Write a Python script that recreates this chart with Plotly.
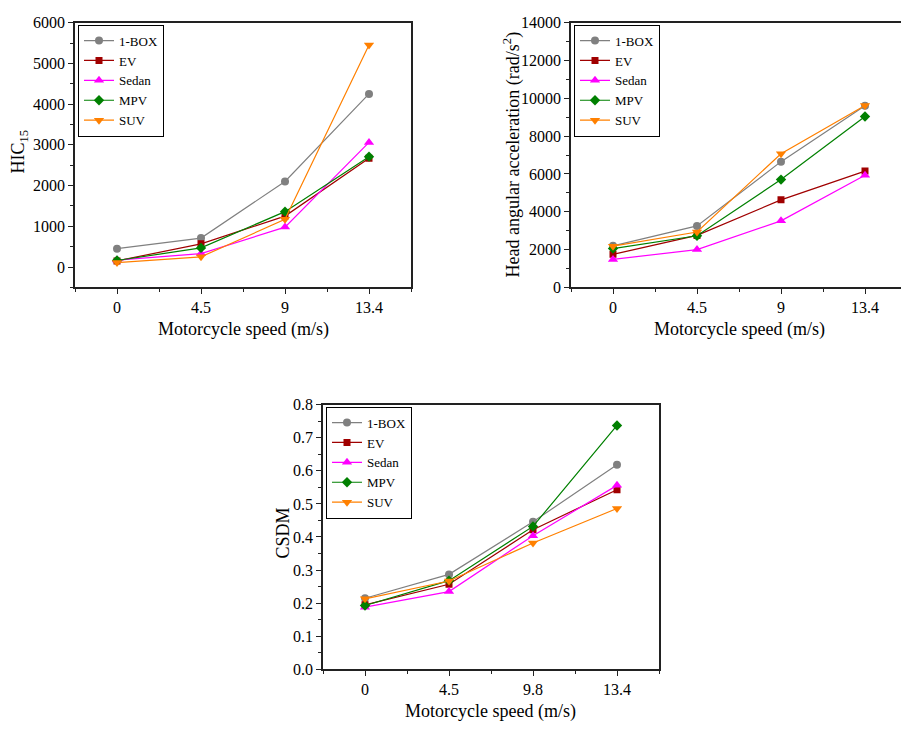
import plotly.graph_objects as go

speeds_a = ["0", "4.5", "9", "13.4"]
speeds_c = ["0", "4.5", "9.8", "13.4"]
vehicles = ["1-BOX", "EV", "Sedan", "MPV", "SUV"]

hic_1box = [450, 710, 2100, 4250]
hic_ev = [150, 570, 1250, 2670]
hic_sedan = [170, 330, 980, 3060]
hic_mpv = [160, 470, 1360, 2710]
hic_suv = [110, 250, 1170, 5450]

haa_1box = [2200, 3250, 6650, 9600]
haa_ev = [1750, 2750, 4630, 6150]
haa_sedan = [1480, 2000, 3520, 5930]
haa_mpv = [2050, 2730, 5700, 9040]
haa_suv = [2180, 2930, 7070, 9620]

csdm_1box = [0.215, 0.287, 0.446, 0.618]
csdm_ev = [0.195, 0.257, 0.422, 0.543]
csdm_sedan = [0.188, 0.235, 0.404, 0.556]
csdm_mpv = [0.193, 0.268, 0.432, 0.737]
csdm_suv = [0.213, 0.267, 0.382, 0.486]

colors = ["#808080", "#A00000", "#FF00FF", "#008000", "#FF8000"]
symbols = ["circle", "square", "triangle-up", "diamond", "triangle-down"]
msizes = [8, 7, 9, 8, 9]

FONT = "Liberation Serif"
W, H = 901, 736

fig = go.Figure()

panels = [
    (1, [hic_1box, hic_ev, hic_sedan, hic_mpv, hic_suv], speeds_a, "legend"),
    (2, [haa_1box, haa_ev, haa_sedan, haa_mpv, haa_suv], speeds_a, "legend2"),
    (3, [csdm_1box, csdm_ev, csdm_sedan, csdm_mpv, csdm_suv], speeds_c, "legend3"),
]
for idx, series, cats, leg in panels:
    xs = list(range(len(cats)))
    suffix = "" if idx == 1 else str(idx)
    for name, vals, c, s, ms in zip(vehicles, series, colors, symbols, msizes):
        fig.add_trace(go.Scatter(
            x=xs, y=vals, name=name, mode="lines+markers",
            line=dict(color=c, width=1.2),
            marker=dict(symbol=s, size=ms, color=c),
            xaxis="x" + suffix, yaxis="y" + suffix, legend=leg,
        ))

def xpx(a, b):
    return [a / W, b / W]

def ypx(top, bottom):
    return [1 - bottom / H, 1 - top / H]

axis_common = dict(
    showline=True, linecolor="#222222", linewidth=1.6, showgrid=False, zeroline=False,
    ticks="outside", ticklen=5, tickwidth=1.2, tickcolor="#222222",
    tickfont=dict(family=FONT, size=16, color="black"),
)

def xaxis_cfg(domain, anchor, cats, rng, mirror=True):
    return dict(axis_common, domain=domain, anchor=anchor, range=rng,
                tickmode="array", tickvals=list(range(len(cats))), ticktext=cats,
                mirror=mirror,
                minor=dict(ticks="outside", ticklen=3, tickwidth=1.2, tickcolor="#222222",
                           dtick=0.5, tick0=0, showgrid=False))

def yaxis_cfg(domain, anchor, rng, dtick, minor_dtick, fmt="d", mirror=True):
    return dict(axis_common, domain=domain, anchor=anchor, range=rng,
                tick0=0, dtick=dtick, mirror=mirror, tickformat=fmt,
                minor=dict(ticks="outside", ticklen=3, tickwidth=1.2, tickcolor="#222222",
                           dtick=minor_dtick, tick0=0, showgrid=False))

legend_common = dict(
    bgcolor="white", bordercolor="black", borderwidth=1,
    font=dict(family=FONT, size=13, color="black"),
    xanchor="left", yanchor="top", tracegroupgap=0, itemsizing="trace",
)

fig.update_layout(
    width=W, height=H,
    margin=dict(l=0, r=0, t=0, b=0),
    paper_bgcolor="white", plot_bgcolor="white",
    font=dict(family=FONT, color="black"),
    xaxis=xaxis_cfg(xpx(75, 411), "y", speeds_a, [-0.5, 3.5]),
    yaxis=yaxis_cfg(ypx(15, 286), "x", [-500, 6000], 1000, 500),
    xaxis2=xaxis_cfg(xpx(571, 901), "y2", speeds_a, [-0.5, -0.5 + (901 - 571) / 84.0]),
    yaxis2=yaxis_cfg(ypx(15, 286), "x2", [0, 14000], 2000, 1000, mirror=False),
    xaxis3=xaxis_cfg(xpx(323, 659), "y3", speeds_c, [-0.5, 3.5]),
    yaxis3=yaxis_cfg(ypx(406, 677), "x3", [0, 0.8], 0.1, 0.05, fmt=".1f"),
    legend=dict(legend_common, x=78 / W, y=1 - 17 / H),
    legend2=dict(legend_common, x=574 / W, y=1 - 17 / H),
    legend3=dict(legend_common, x=326 / W, y=1 - 408 / H),
)

title_font = dict(family=FONT, size=18, color="black")
annotations = [
    dict(text="Motorcycle speed (m/s)", x=243 / W, y=1 - 329 / H),
    dict(text="Motorcycle speed (m/s)", x=739 / W, y=1 - 329 / H),
    dict(text="Motorcycle speed (m/s)", x=491 / W, y=1 - 720 / H),
    dict(text="HIC<sub>15</sub>", x=20 / W, y=1 - 147 / H, textangle=-90),
    dict(text="Head angular acceleration (rad/s<sup>2</sup>)", x=512 / W, y=1 - 150 / H, textangle=-90),
    dict(text="CSDM", x=283 / W, y=1 - 538 / H, textangle=-90),
]
for a in annotations:
    fig.add_annotation(xref="paper", yref="paper", showarrow=False,
                       xanchor="center", yanchor="middle", font=title_font, **a)

fig.write_html("out.html")
